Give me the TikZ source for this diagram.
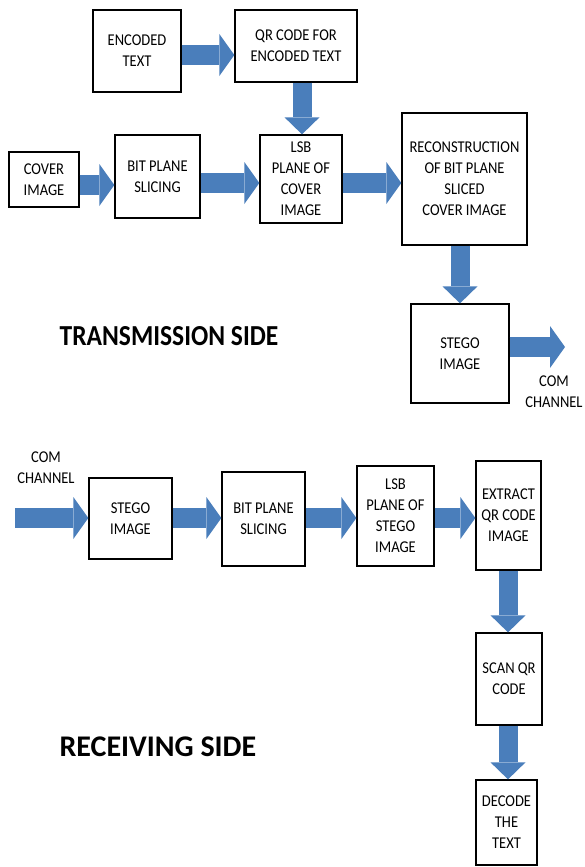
\documentclass[tikz,border=0pt]{standalone}
\usepackage{fontspec}
\setmainfont{Carlito}[FakeStretch=0.88]
\newfontfamily\widefont{Carlito}
\usetikzlibrary{arrows.meta}
\definecolor{arrowblue}{RGB}{74,126,187}
\begin{document}
\begin{tikzpicture}[x=1pt,y=-1pt,
  box/.style={draw=black, line width=1.3pt, fill=white, align=center, inner sep=2pt,
    font=\fontsize{16.5}{21}\selectfont},
  harrow/.style={draw=arrowblue, line width=20pt, -{Triangle[length=15pt,width=42pt,line width=0pt]}},
  varrow/.style={draw=arrowblue, line width=19pt, -{Triangle[length=17pt,width=35pt,line width=0pt]}},
  lbl/.style={align=center, font=\fontsize{16.5}{21}\selectfont},
  sidetitle/.style={font=\bfseries\fontsize{29}{32}\selectfont},
  sidetitlewide/.style={font=\widefont\bfseries\fontsize{30}{32}\selectfont}]
\useasboundingbox (0,0) rectangle (584,867);
% transmission side
\node[box, minimum width=88pt, minimum height=82pt] (enc) at (137,51) {ENCODED\\TEXT};
\node[box, minimum width=122pt, minimum height=72pt] (qr) at (296,46) {QR CODE FOR\\ENCODED TEXT};
\node[box, minimum width=70pt, minimum height=55pt] (cover) at (44,179.5) {COVER\\IMAGE};
\node[box, minimum width=85pt, minimum height=83pt] (bit1) at (157.5,176.5) {BIT PLANE\\SLICING};
\node[box, minimum width=82pt, minimum height=88pt] (lsb1) at (301,179) {LSB\\PLANE OF\\COVER\\IMAGE};
\node[box, minimum width=125pt, minimum height=132pt] (recon) at (464.5,179) {RECONSTRUCTION\\OF BIT PLANE\\SLICED\\COVER IMAGE};
\node[box, minimum width=98pt, minimum height=99pt] (stego1) at (460,353.5) {STEGO\\IMAGE};
\coordinate (out) at (565,347);
\node[lbl] (comout) at (554,392) {COM\\CHANNEL};
\node[sidetitle] (tside) at (169,336) {TRANSMISSION SIDE};

\draw[harrow] (enc.east |- 0,55) -- (qr.west |- 0,55);
\draw[varrow] (qr.south -| 302,0) -- (lsb1.north -| 302,0);
\draw[harrow] (cover.east |- 0,185) -- (bit1.west |- 0,185);
\draw[harrow] (bit1.east |- 0,183) -- (lsb1.west |- 0,183);
\draw[harrow] (lsb1.east |- 0,183) -- (recon.west |- 0,183);
\draw[varrow] (recon.south -| 460,0) -- (stego1.north -| 460,0);
\draw[harrow] (stego1.east |- out) -- (out);

% receiving side
\coordinate (in) at (15,518);
\node[lbl] (comin) at (46,468) {COM\\CHANNEL};
\node[box, minimum width=83pt, minimum height=81pt] (stego2) at (130.5,518.5) {STEGO\\IMAGE};
\node[box, minimum width=83pt, minimum height=94pt] (bit2) at (263.5,519) {BIT PLANE\\SLICING};
\node[box, minimum width=77pt, minimum height=100pt] (lsb2) at (395.5,516) {LSB\\PLANE OF\\STEGO\\IMAGE};
\node[box, minimum width=65pt, minimum height=109pt] (extract) at (508.5,515.5) {EXTRACT\\QR CODE\\IMAGE};
\node[box, minimum width=66pt, minimum height=92pt] (scan) at (509,679) {SCAN QR\\CODE};
\node[box, minimum width=61pt, minimum height=85pt] (decode) at (506.5,822.5) {DECODE\\THE\\TEXT};
\node[sidetitlewide, anchor=west] (rside) at (56,747) {RECEIVING SIDE};

\draw[harrow] (in) -- (stego2.west |- in);
\draw[harrow] (stego2.east |- 0,518) -- (bit2.west |- 0,518);
\draw[harrow] (bit2.east |- 0,518) -- (lsb2.west |- 0,518);
\draw[harrow] (lsb2.east |- 0,518) -- (extract.west |- 0,518);
\draw[varrow] (extract.south -| 508,0) -- (scan.north -| 508,0);
\draw[varrow] (scan.south -| 508,0) -- (decode.north -| 508,0);
\end{tikzpicture}
\end{document}
